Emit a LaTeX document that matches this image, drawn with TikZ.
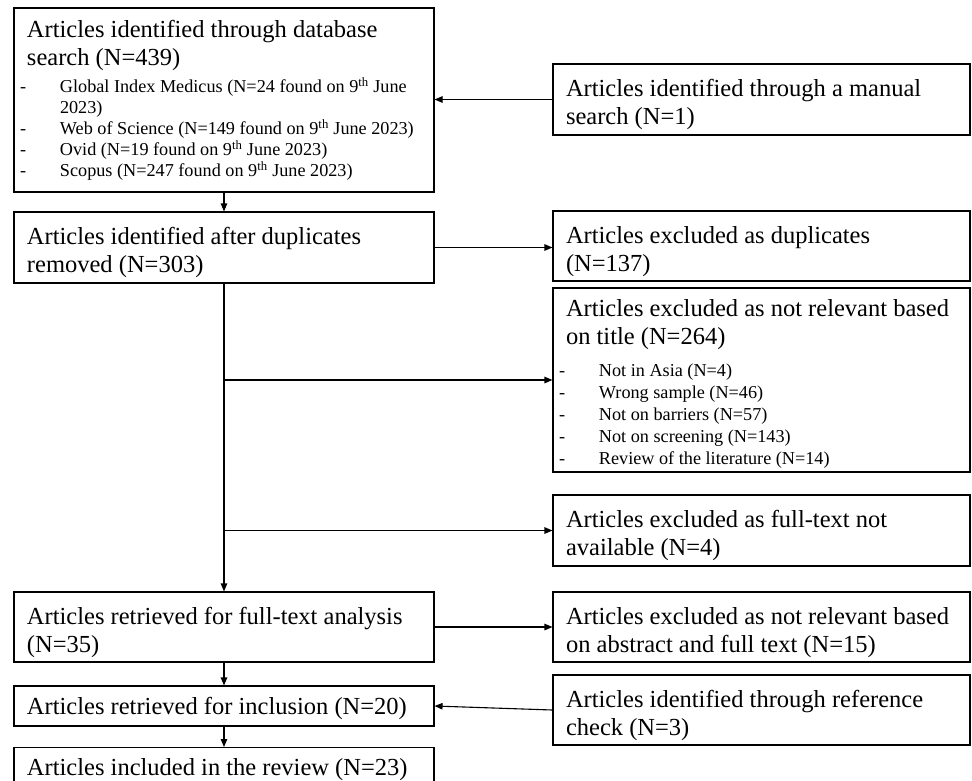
\documentclass[tikz,border=0pt]{standalone}
\usepackage{fontspec}
\setmainfont{Liberation Serif}
\usetikzlibrary{arrows.meta}
\newcommand{\mainfs}{\fontsize{24.5}{28}\selectfont\spaceskip=0.25em\relax}
\newcommand{\smallfs}{\fontsize{18.2}{21}\selectfont\spaceskip=0.25em\relax}
\newcommand{\txl}[1]{\par\noindent #1}
\newcommand{\itm}[1]{\par\noindent\hspace*{-7pt}\makebox[40pt][l]{-}#1}
\newcommand{\contl}[1]{\par\noindent\hspace*{33pt}#1}
\newcommand{\boxsetup}{\leftskip=13pt\rightskip=0pt plus 1fil\parindent=0pt\mainfs}
\newcommand{\liftby}[1]{\par\vspace{#1}\hrule height 0pt\relax}
\begin{document}
\begin{tikzpicture}[x=1pt,y=-1pt,
  lbox/.style={draw, line width=1.1pt, inner sep=0pt, text width=420pt, minimum width=420pt},
  rbox/.style={draw, line width=1.1pt, inner sep=0pt, text width=417pt, minimum width=417pt},
  arr/.style={line width=1.1pt, -{Triangle[length=8pt,width=6.5pt]}}]
\path[clip] (0,0) rectangle (972,780);
\fill[white] (0,0) rectangle (972,780);

\node[lbox, minimum height=184pt] (A) at (224,100) {\boxsetup
  \txl{Articles identified through database}
  \txl{search (N=439)}
  \par\vspace{6.5pt}\smallfs
  \itm{Global Index Medicus (N=24 found on 9\textsuperscript{th} June}
  \contl{2023)}
  \itm{Web of Science (N=149 found on 9\textsuperscript{th} June 2023)}
  \itm{Ovid (N=19 found on 9\textsuperscript{th} June 2023)}
  \itm{Scopus (N=247 found on 9\textsuperscript{th} June 2023)}\liftby{10pt}};

\node[rbox, minimum height=71pt] (M) at (761.5,99.5) {\boxsetup
  \txl{Articles identified through a manual}
  \txl{search (N=1)}\par};

\node[lbox, minimum height=71pt] (B) at (224,247.5) {\boxsetup
  \txl{Articles identified after duplicates}
  \txl{removed (N=303)}\par};

\node[rbox, minimum height=70pt] (Dup) at (761.5,246) {\boxsetup
  \txl{Articles excluded as duplicates}
  \txl{(N=137)}\par};

\node[rbox, minimum height=184pt] (T) at (761.5,380) {\boxsetup
  \txl{Articles excluded as not relevant based}
  \txl{on title (N=264)}
  \par\vspace{9.5pt}\fontsize{18.2}{22}\selectfont\spaceskip=0.25em\relax
  \itm{Not in Asia (N=4)}
  \itm{Wrong sample (N=46)}
  \itm{Not on barriers (N=57)}
  \itm{Not on screening (N=143)}
  \itm{Review of the literature (N=14)}\liftby{3pt}};

\node[rbox, minimum height=71pt] (NA) at (761.5,530.5) {\boxsetup
  \txl{Articles excluded as full-text not}
  \txl{available (N=4)}\par};

\node[lbox, minimum height=70pt] (C) at (224,627) {\boxsetup
  \txl{Articles retrieved for full-text analysis}
  \txl{(N=35)}\par};

\node[rbox, minimum height=70pt] (Ab) at (761.5,627) {\boxsetup
  \txl{Articles excluded as not relevant based}
  \txl{on abstract and full text (N=15)}\par};

\node[lbox, minimum height=40pt] (D) at (224,706) {\boxsetup
  \txl{Articles retrieved for inclusion (N=20)}\liftby{6pt}};

\node[rbox, minimum height=70pt] (R) at (761.5,710) {\boxsetup
  \txl{Articles identified through reference}
  \txl{check (N=3)}\par};

\node[lbox, minimum height=36pt, anchor=north] (E) at (224,747) {\boxsetup
  \txl{Articles included in the review (N=23)}\liftby{7pt}};

% connectors
\draw[arr] (M.west) -- (M.west -| A.east);
\draw[arr] (A.south) -- (B.north);
\draw[arr] (B.east) -- (B.east -| Dup.west);
\draw[arr] (B.south) -- (C.north);
\draw[arr] (B.south |- T.west) -- (T.west);
\draw[arr] (B.south |- NA.west) -- (NA.west);
\draw[arr] (C.east) -- (Ab.west);
\draw[arr] (C.south) -- (D.north);
\draw[arr] (R.west) -- (D.east);
\draw[arr] (D.south) -- (E.north);
\end{tikzpicture}
\end{document}
